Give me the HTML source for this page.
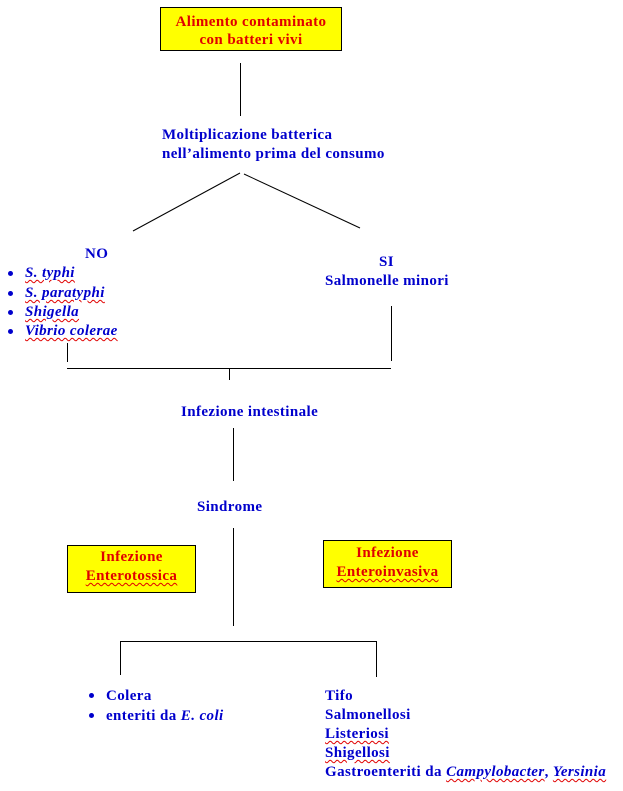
<!DOCTYPE html>
<html><head><meta charset="utf-8"><style>
body{margin:0;width:623px;height:791px;background:#fff;position:relative;overflow:hidden;font-family:"Liberation Serif",serif;font-weight:bold;font-size:15px;letter-spacing:0.4px;color:#0000cc}
.t{position:absolute;white-space:nowrap;line-height:19px;margin-top:1px}
.box{position:absolute;background:#ffff00;border:1px solid #000;color:#e00000;text-align:center;line-height:19px;box-sizing:border-box;white-space:nowrap}
.sp{text-decoration:underline wavy #e00000;text-decoration-thickness:1px;text-underline-offset:2px}
i{font-style:italic}
.dot{position:absolute;width:5px;height:5px;border-radius:50%;background:#0000cc}
</style></head><body>
<svg width="623" height="791" style="position:absolute;left:0;top:0" stroke="#000" stroke-width="1">
<line x1="240.5" y1="63" x2="240.5" y2="116"/>
<line x1="240" y1="173" x2="133" y2="231"/>
<line x1="244" y1="174" x2="360" y2="228"/>
<line x1="67.5" y1="343" x2="67.5" y2="362"/>
<line x1="391.5" y1="306" x2="391.5" y2="361"/>
<line x1="67" y1="368.5" x2="391" y2="368.5"/>
<line x1="229.5" y1="368" x2="229.5" y2="380"/>
<line x1="233.5" y1="428" x2="233.5" y2="481"/>
<line x1="233.5" y1="528" x2="233.5" y2="626"/>
<line x1="120" y1="641.5" x2="376" y2="641.5"/>
<line x1="120.5" y1="641" x2="120.5" y2="675"/>
<line x1="376.5" y1="641" x2="376.5" y2="677"/>
</svg>
<div class="box" style="left:160px;top:7px;width:182px;height:44px;padding-top:5px;line-height:18px">Alimento contaminato<br>con batteri vivi</div>
<div class="t" style="left:162px;top:125px">Moltiplicazione batterica<br>nell’alimento prima del consumo</div>
<div class="t" style="left:85px;top:244px">NO</div>
<div class="dot" style="left:8px;top:271px"></div><div class="t" style="left:25px;top:263px"><i class="sp">S. typhi</i></div>
<div class="dot" style="left:8px;top:291px"></div><div class="t" style="left:25px;top:283px"><i class="sp">S. paratyphi</i></div>
<div class="dot" style="left:8px;top:310px"></div><div class="t" style="left:25px;top:302px"><i class="sp">Shigella</i></div>
<div class="dot" style="left:8px;top:329px"></div><div class="t" style="left:25px;top:321px"><i class="sp">Vibrio colerae</i></div>
<div class="t" style="left:379px;top:252px">SI</div>
<div class="t" style="left:325px;top:271px">Salmonelle minori</div>
<div class="t" style="left:181px;top:402px">Infezione intestinale</div>
<div class="t" style="left:197px;top:497px">Sindrome</div>
<div class="box" style="left:67px;top:545px;width:129px;height:48px;padding-top:2px">Infezione<br><span class="sp">Enterotossica</span></div>
<div class="box" style="left:323px;top:540px;width:129px;height:48px;padding-top:3px">Infezione<br><span class="sp">Enteroinvasiva</span></div>
<div class="dot" style="left:89px;top:693px"></div><div class="t" style="left:106px;top:686px">Colera</div>
<div class="dot" style="left:89px;top:713px"></div><div class="t" style="left:106px;top:706px">enteriti da <i>E. coli</i></div>
<div class="t" style="left:325px;top:686px">Tifo<br>Salmonellosi<br><span class="sp">Listeriosi</span><br><span class="sp">Shigellosi</span><br>Gastroenteriti da <i class="sp">Campylobacter</i>, <i class="sp">Yersinia</i></div>
</body></html>
